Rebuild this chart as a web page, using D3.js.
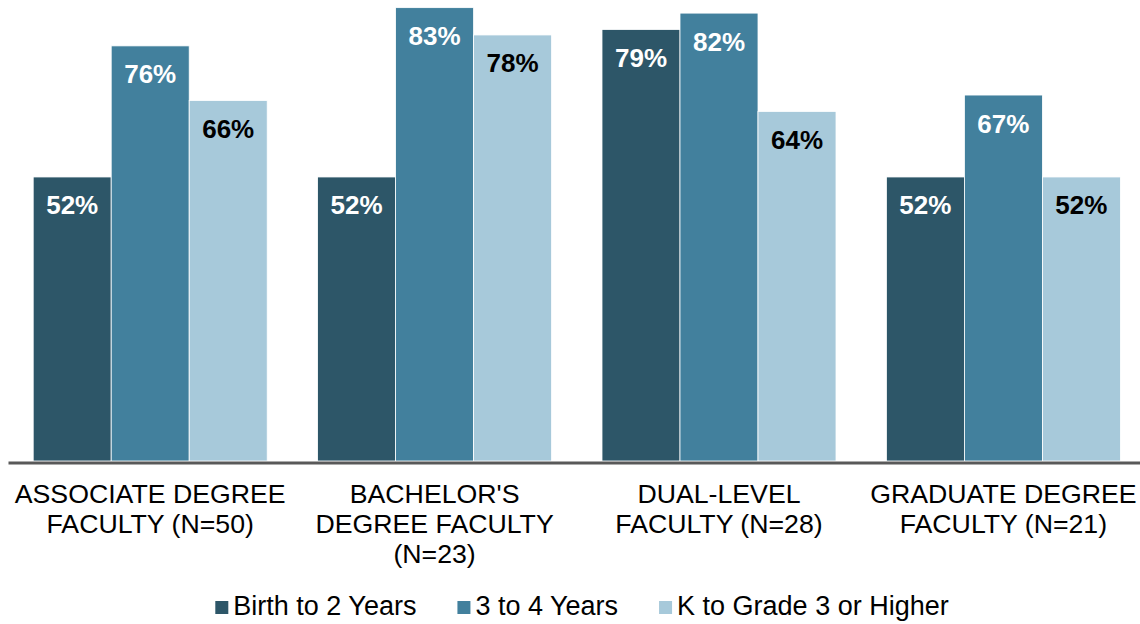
<!DOCTYPE html>
<html>
<head>
<meta charset="utf-8">
<script src="https://cdn.jsdelivr.net/npm/d3@7"></script>
<style>
  body { margin: 0; background: #fff; }
  svg { display: block; font-family: "Liberation Sans", Arial, sans-serif; }
  .bar-value { font-weight: bold; font-size: 26px; }
  .cat-label { font-size: 26.7px; fill: #000; }
  .legend-text { font-size: 27px; fill: #000; }
</style>
</head>
<body>
<svg id="chart" width="1140" height="624"></svg>
<script>
////////////////////////// DATA //////////////////////////

const categories = [
  "ASSOCIATE DEGREE|FACULTY (N=50)",
  "BACHELOR'S|DEGREE FACULTY|(N=23)",
  "DUAL-LEVEL|FACULTY (N=28)",
  "GRADUATE DEGREE|FACULTY (N=21)"
]
const seriesNames = ["Birth to 2 Years", "3 to 4 Years", "K to Grade 3 or Higher"]
const birthTo2 = [52, 52, 79, 52]
const threeTo4 = [76, 83, 82, 67]
const kToGrade3 = [66, 78, 64, 52]
const seriesColors = ["#2d5668", "#42809d", "#a7c9da"]
const labelColors = ["#ffffff", "#ffffff", "#000000"]

////////////////////////// SETUP //////////////////////////

const svg = d3.select("#chart")
const baseline = 461

const seriesValues = [birthTo2, threeTo4, kToGrade3]
const data = categories.map((c, i) => ({
  key: c,
  values: seriesNames.map((s, j) => ({ series: s, idx: j, value: seriesValues[j][i] }))
}))

const x0 = d3.scaleBand()
  .domain(categories)
  .range([8, 1145.6])
  .paddingInner(0)
  .paddingOuter(0)

const x1 = d3.scaleBand()
  .domain(seriesNames)
  .range([0, x0.bandwidth()])
  .paddingInner(0)
  .paddingOuter(0.323)

const y = d3.scaleLinear()
  .domain([0, 84.4])
  .range([baseline, 0])

////////////////////////// BARS //////////////////////////

const groups = svg.selectAll(".group")
  .data(data)
  .enter()
  .append("g")
  .attr("class", "group")
  .attr("transform", d => `translate(${x0(d.key)},0)`)

groups.selectAll("rect")
  .data(d => d.values)
  .enter()
  .append("rect")
  .attr("x", d => x1(d.series))
  .attr("y", d => y(d.value))
  .attr("width", x1.bandwidth())
  .attr("height", d => baseline - y(d.value))
  .style("fill", d => seriesColors[d.idx])
  .style("stroke", "#ffffff")
  .style("stroke-width", 0.8)

groups.selectAll(".bar-value")
  .data(d => d.values)
  .enter()
  .append("text")
  .attr("class", "bar-value")
  .attr("x", d => x1(d.series) + x1.bandwidth() / 2)
  .attr("y", d => y(d.value) + 37.5)
  .attr("text-anchor", "middle")
  .style("fill", d => labelColors[d.idx])
  .text(d => `${d.value}%`)

////////////////////////// AXIS //////////////////////////

const xAxis = d3.axisBottom(x0).tickSize(0).tickSizeOuter(0).tickFormat("")
const axisG = svg.append("g")
  .attr("transform", `translate(0,${baseline + 1.5})`)
  .call(xAxis)
axisG.select(".domain")
  .attr("stroke", "#595959")
  .attr("stroke-width", 3)

// multi-line category labels
categories.forEach(c => {
  const t = svg.append("text")
    .attr("class", "cat-label")
    .attr("text-anchor", "middle")
    .attr("x", x0(c) + x0.bandwidth() / 2)
    .attr("y", baseline + 42)
  c.split("|").forEach((line, i) => {
    t.append("tspan")
      .attr("x", x0(c) + x0.bandwidth() / 2)
      .attr("dy", i === 0 ? 0 : 30)
      .text(line)
  })
})

////////////////////////// LEGEND //////////////////////////

const legend = svg.append("g").attr("class", "legend")
let lx = 0
seriesNames.forEach((s, i) => {
  const g = legend.append("g")
  g.append("rect")
    .attr("x", 0).attr("y", -14)
    .attr("width", 13).attr("height", 13)
    .style("fill", seriesColors[i])
  const txt = g.append("text")
    .attr("class", "legend-text")
    .attr("x", 18)
    .attr("y", 0)
    .text(s)
  const w = 18 + txt.node().getComputedTextLength()
  g.attr("transform", `translate(${lx},0)`)
  lx += w + 41
})
const legendWidth = lx - 41
legend.attr("transform", `translate(${(1140 - legendWidth) / 2 + 12},615)`)
</script>
</body>
</html>
